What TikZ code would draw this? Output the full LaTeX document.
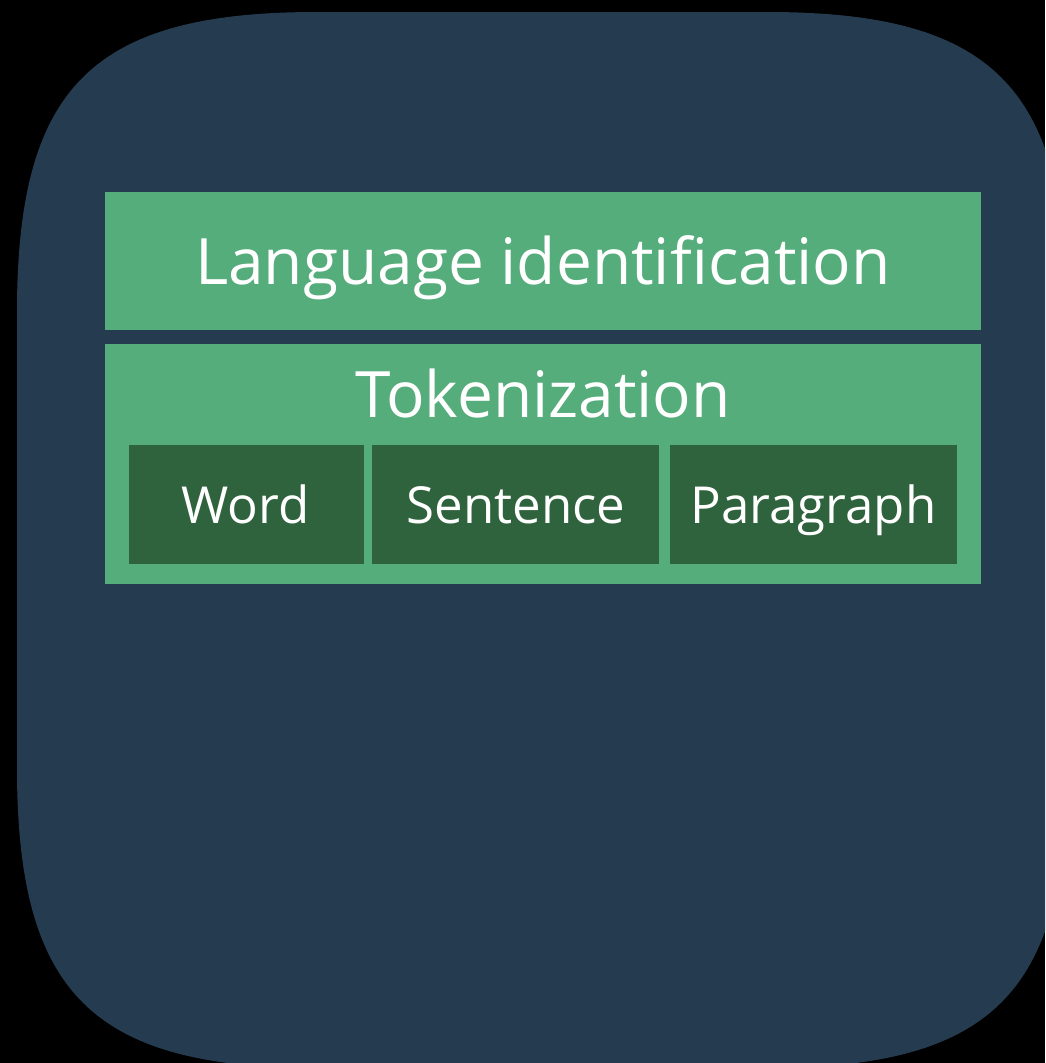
\documentclass[tikz,border=0pt]{standalone}
\usepackage{fontspec}
\setmainfont{Open Sans}
\definecolor{navy}{HTML}{253B4F}
\definecolor{lightgreen}{HTML}{55AD7B}
\definecolor{darkgreen}{HTML}{2F633D}
\begin{document}
\begin{tikzpicture}[x=1pt,y=-1pt,
  greenbox/.style={fill=lightgreen, draw=none, inner sep=0pt, outer sep=0pt},
  darkbox/.style={fill=darkgreen, draw=none, inner sep=0pt, outer sep=0pt},
  bigtext/.style={text=white, anchor=base, inner sep=0pt, font=\fontsize{64}{68}\selectfont},
  smalltext/.style={text=white, anchor=base, inner sep=0pt, font=\fontsize{51}{55}\selectfont}]
\useasboundingbox (0,0) rectangle (1045,1063);
\fill[black] (0,0) rectangle (1045,1063);
\clip (0,0) rectangle (1045,1063);
% squircle panel
\fill[navy] (17,312) .. controls (17,87) and (92,12) .. (317,12)
  -- (767,12) .. controls (992,12) and (1067,87) .. (1067,312)
  -- (1067,768) .. controls (1067,993) and (992,1068) .. (767,1068)
  -- (317,1068) .. controls (92,1068) and (17,993) .. (17,768) -- cycle;
% boxes
\node[greenbox, minimum width=876pt, minimum height=138pt] (lang) at (543,261) {};
\node[greenbox, minimum width=876pt, minimum height=240pt] (tok) at (543,464) {};
\node[darkbox, minimum width=235pt, minimum height=119pt] (word) at (246.5,504.5) {};
\node[darkbox, minimum width=287pt, minimum height=119pt] (sent) at (515.5,504.5) {};
\node[darkbox, minimum width=287pt, minimum height=119pt] (para) at (813.5,504.5) {};
% labels
\node[bigtext] (langlbl) at (543,284) {Language identification};
\node[bigtext] (toklbl) at (543,417) {Tokenization};
\node[smalltext] (wordlbl) at (245.5,523) {Word};
\node[smalltext] (sentlbl) at (516,523) {Sentence};
\node[smalltext] (paralbl) at (813.5,523) {Paragraph};
\end{tikzpicture}
\end{document}
